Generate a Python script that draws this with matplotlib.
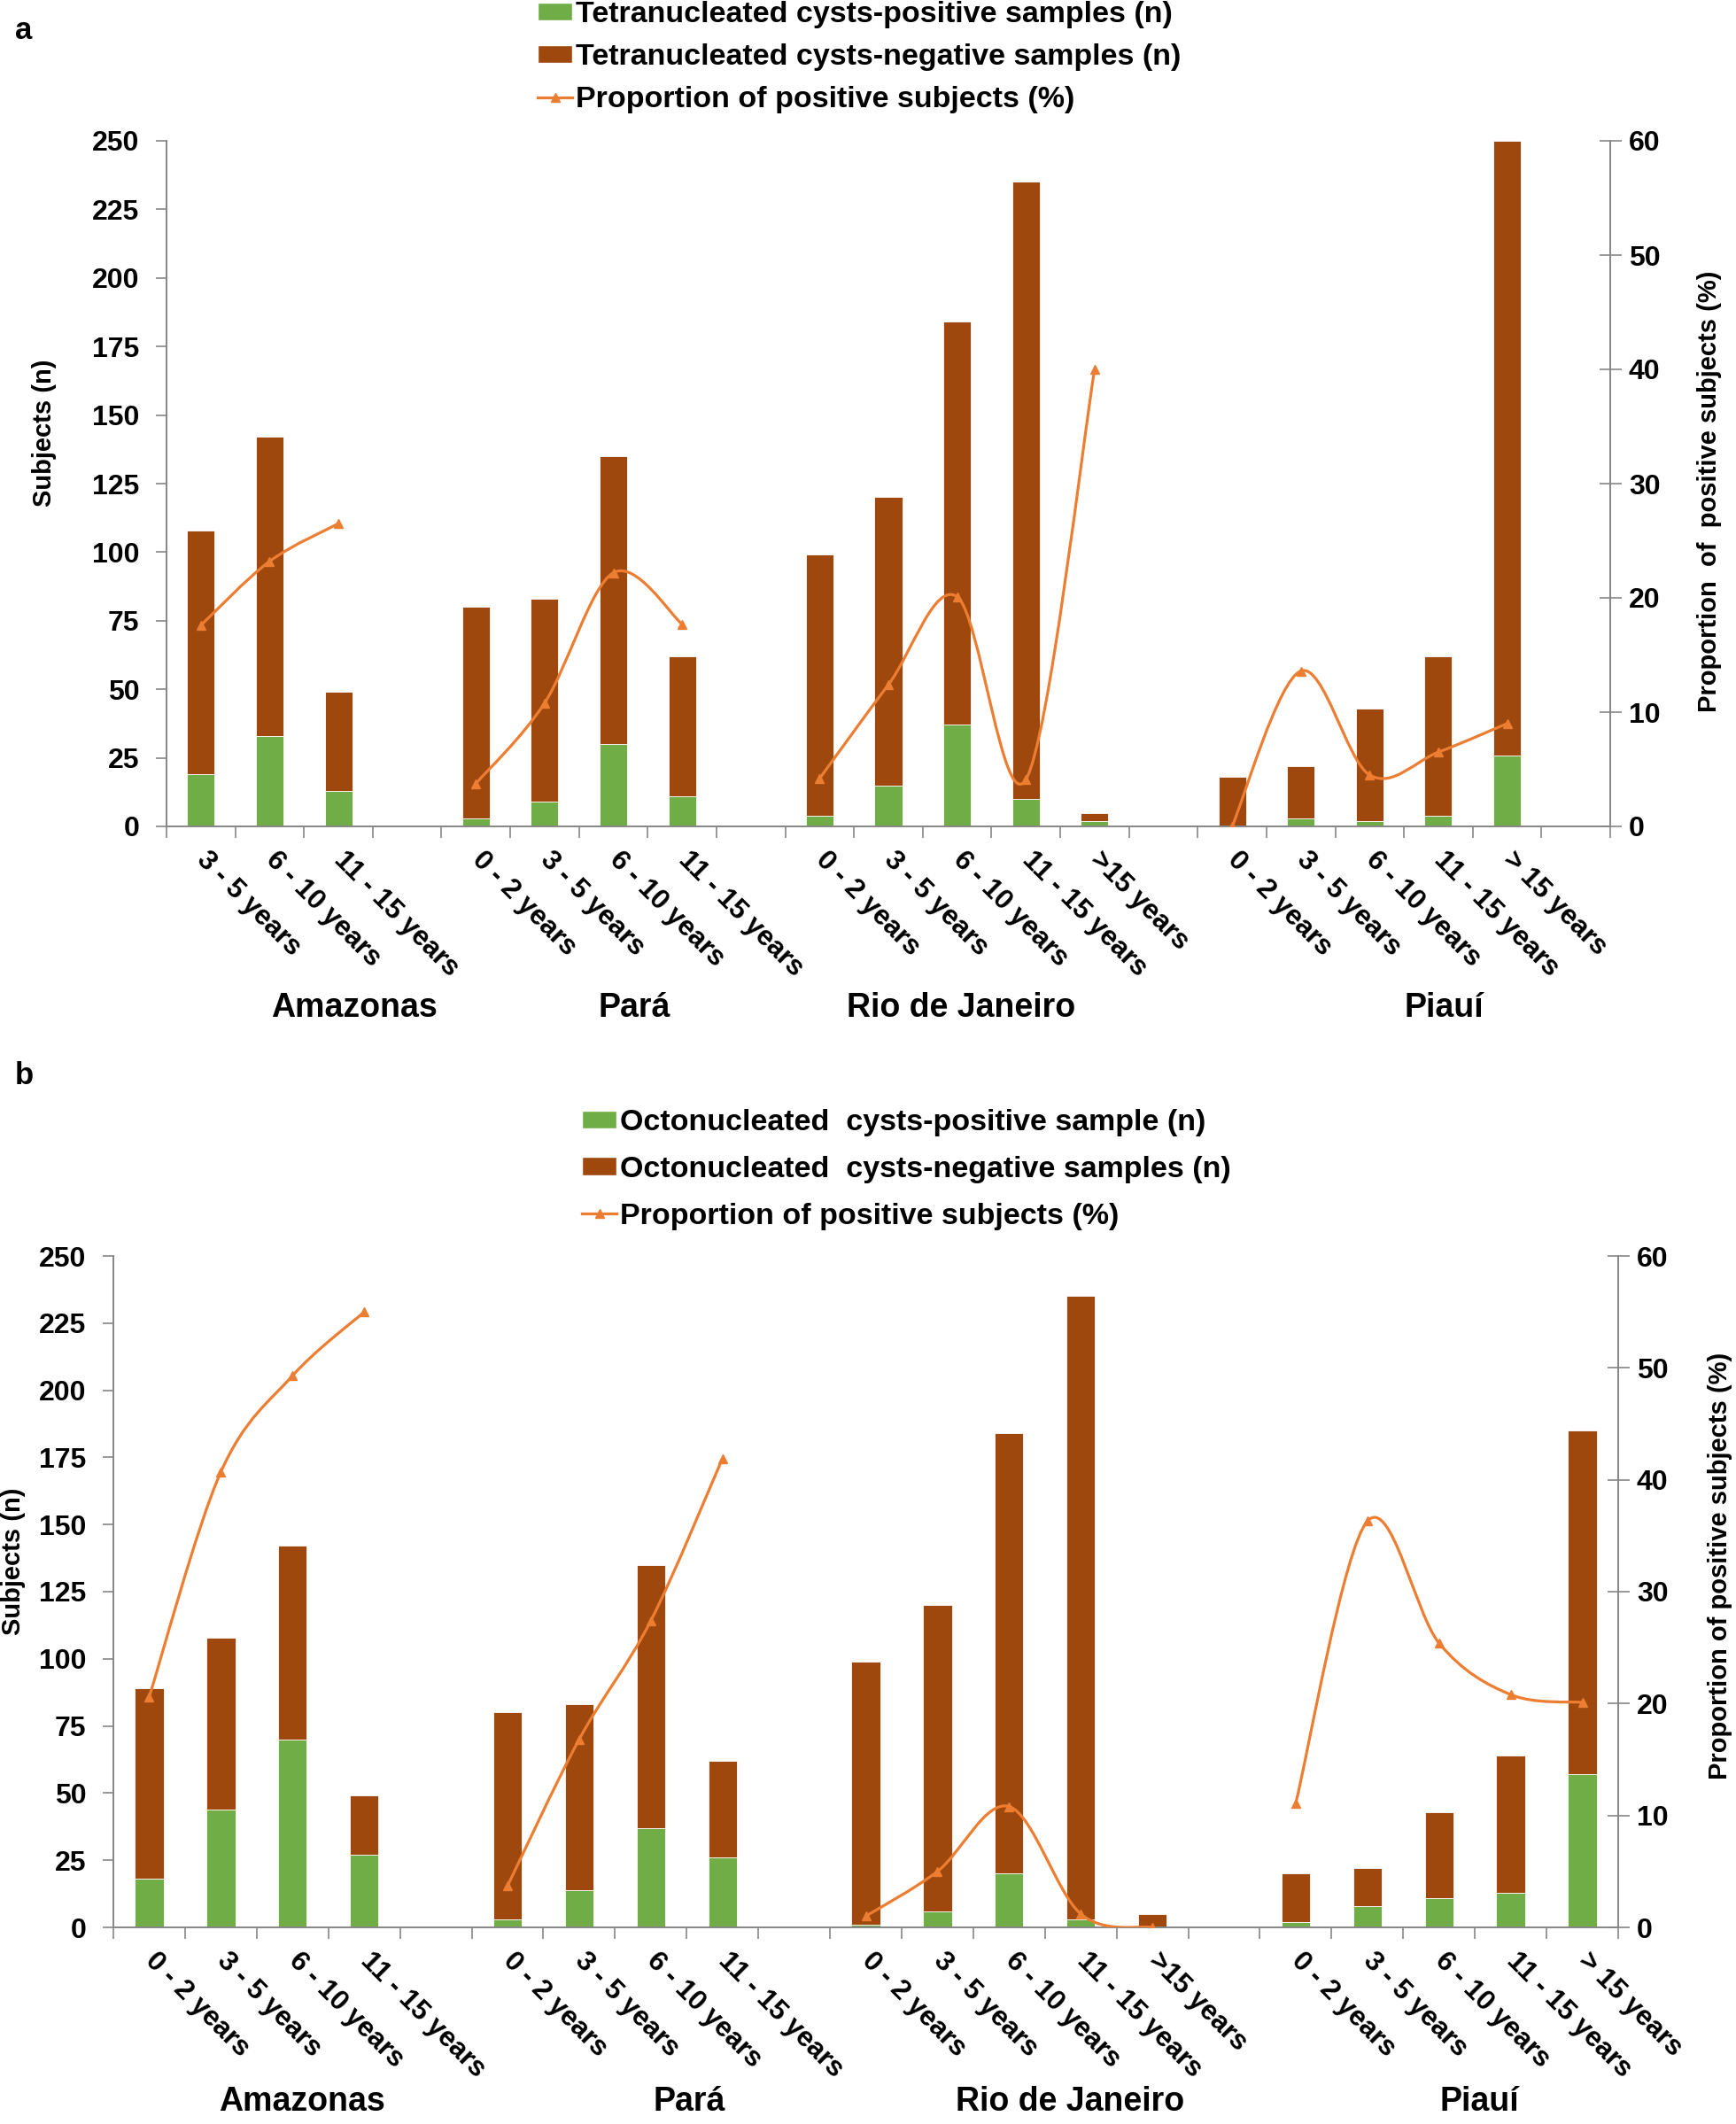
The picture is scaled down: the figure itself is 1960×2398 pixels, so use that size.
import matplotlib
matplotlib.use('Agg')
import matplotlib.pyplot as plt
from matplotlib.path import Path
from matplotlib.patches import PathPatch, Patch
from matplotlib.lines import Line2D

plt.rcParams['font.family'] = ['Liberation Sans', 'DejaVu Sans']
plt.rcParams['font.weight'] = 'bold'

# ---- data ----
regions = ['Amazonas', 'Pará', 'Rio de Janeiro', 'Piauí']

# panel a: tetranucleated cysts
ages_a = [['3 - 5 years', '6 - 10 years', '11 - 15 years'],
          ['0 - 2 years', '3 - 5 years', '6 - 10 years', '11 - 15 years'],
          ['0 - 2 years', '3 - 5 years', '6 - 10 years', '11 - 15 years', '>15 years'],
          ['0 - 2 years', '3 - 5 years', '6 - 10 years', '11 - 15 years', '> 15 years']]
pos_a = [[19, 33, 13], [3, 9, 30, 11], [4, 15, 37, 10, 2], [0, 3, 2, 4, 26]]
neg_a = [[89, 109, 36], [77, 74, 105, 51], [95, 105, 147, 225, 3], [18, 19, 41, 58, 224]]
prop_a = [[17.6, 23.2, 26.5], [3.75, 10.8, 22.2, 17.7], [4.2, 12.4, 20.1, 4.1, 40.0],
          [0.0, 13.6, 4.5, 6.5, 9.0]]

# panel b: octonucleated cysts
ages_b = [['0 - 2 years', '3 - 5 years', '6 - 10 years', '11 - 15 years'],
          ['0 - 2 years', '3 - 5 years', '6 - 10 years', '11 - 15 years'],
          ['0 - 2 years', '3 - 5 years', '6 - 10 years', '11 - 15 years', '>15 years'],
          ['0 - 2 years', '3 - 5 years', '6 - 10 years', '11 - 15 years', '> 15 years']]
pos_b = [[18, 44, 70, 27], [3, 14, 37, 26], [1, 6, 20, 3, 0], [2, 8, 11, 13, 57]]
neg_b = [[71, 64, 72, 22], [77, 69, 98, 36], [98, 114, 164, 232, 5], [18, 14, 32, 51, 128]]
prop_b = [[20.6, 40.7, 49.3, 55.0], [3.7, 16.8, 27.4, 41.9], [1.0, 5.0, 10.8, 1.2, 0.0],
          [11.1, 36.3, 25.4, 20.8, 20.1]]

GREEN = '#70AD47'
BROWN = '#9E480E'
ORANGE = '#ED7D31'
GRAY = '#868686'

W, H = 1960, 2398
fig = plt.figure(figsize=(W / 100, H / 100), dpi=100)


def fx(px):
    return px / W


def fy(py):
    return 1 - py / H


def smooth_path(xs, ys):
    # Catmull-Rom style bezier, like Excel's smoothed line
    n = len(xs)
    verts = [(xs[0], ys[0])]
    codes = [Path.MOVETO]
    for i in range(n - 1):
        i0 = i - 1 if i > 0 else i
        i3 = i + 2 if i + 2 < n else i + 1
        c1 = (xs[i] + (xs[i + 1] - xs[i0]) / 6, ys[i] + (ys[i + 1] - ys[i0]) / 6)
        c2 = (xs[i + 1] - (xs[i3] - xs[i]) / 6, ys[i + 1] - (ys[i3] - ys[i]) / 6)
        verts += [c1, c2, (xs[i + 1], ys[i + 1])]
        codes += [Path.CURVE4] * 3
    return Path(verts, codes)


def draw_panel(rect, ages, pos, neg, prop, trailing_gap):
    ax = fig.add_axes(rect)
    ax2 = ax.twinx()
    x = 0
    centers, labels = [], []
    for g in range(len(ages)):
        xs = list(range(x, x + len(ages[g])))
        ax.bar(xs, pos[g], width=0.4, color=GREEN, edgecolor='white', linewidth=0.6, zorder=2)
        ax.bar(xs, neg[g], width=0.4, bottom=pos[g], color=BROWN, edgecolor='white',
               linewidth=0.6, zorder=2)
        ax2.add_patch(PathPatch(smooth_path(xs, prop[g]), fill=False, edgecolor=ORANGE,
                                linewidth=2.3, zorder=3))
        ax2.plot(xs, prop[g], ls='none', marker='^', color=ORANGE, markersize=7, zorder=4)
        centers += xs
        labels += ages[g]
        x += len(ages[g])
        if g < len(ages) - 1 or trailing_gap:
            x += 1
    ax.set_xlim(-0.5, x - 0.5)
    ax.set_ylim(0, 250)
    ax2.set_ylim(0, 60)
    ax.set_yticks(range(0, 251, 25))
    ax2.set_yticks(range(0, 61, 10))
    ax.set_xticks([i - 0.5 for i in range(x + 1)])
    ax.set_xticklabels([])
    ax.set_xticks(centers, minor=True)
    ax.set_xticklabels(labels, minor=True, rotation=-45, ha='left', va='center',
                       rotation_mode='anchor', fontsize=22.5, fontweight='bold')
    ax.tick_params(axis='x', which='minor', length=0, pad=24)
    ax.tick_params(axis='x', which='major', length=9, color=GRAY, width=1.2, direction='out')
    ax.tick_params(axis='y', length=9, color=GRAY, width=1.2, labelsize=23, pad=13)
    ax2.tick_params(axis='y', length=18, color=GRAY, width=1.2, labelsize=23, pad=6,
                    direction='inout')
    for a in (ax, ax2):
        a.spines['top'].set_visible(False)
        for s in ('left', 'right', 'bottom'):
            a.spines[s].set_color(GRAY)
            a.spines[s].set_linewidth(1.2)
        for t in a.get_yticklabels():
            t.set_fontweight('bold')
    return ax, ax2


# panel a
draw_panel([fx(188), fy(933), fx(1818) - fx(188), fy(159) - fy(933)],
           ages_a, pos_a, neg_a, prop_a, True)
# panel b
draw_panel([fx(128), fy(2176), fx(1827) - fx(128), fy(1418) - fy(2176)],
           ages_b, pos_b, neg_b, prop_b, False)

# axis titles
fig.text(fx(50), fy(489), 'Subjects (n)', rotation=90, ha='center', va='center', fontsize=21)
fig.text(fx(1930), fy(555), 'Proportion  of  positive subjects (%)', rotation=90,
         ha='center', va='center', fontsize=21)
fig.text(fx(15), fy(1763), 'Subjects (n)', rotation=90, ha='center', va='center', fontsize=21)
fig.text(fx(1942), fy(1768), 'Proportion of positive subjects (%)', rotation=90,
         ha='center', va='center', fontsize=21)

# region labels
for name, px in zip(regions, [400, 716, 1085, 1630]):
    fig.text(fx(px), fy(1138), name, ha='center', va='center', fontsize=27)
for name, px in zip(regions, [341, 778, 1208, 1670]):
    fig.text(fx(px), fy(2373), name, ha='center', va='center', fontsize=27)

# panel letters
fig.text(fx(27), fy(34), 'a', ha='center', va='center', fontsize=25)
fig.text(fx(27), fy(1215), 'b', ha='center', va='center', fontsize=25)

# legends
def make_legend(labels, x0, ytop, spacing):
    handles = [Patch(facecolor=GREEN, edgecolor='white'),
               Patch(facecolor=BROWN, edgecolor='white'),
               Line2D([], [], color=ORANGE, lw=2.3, marker='^', markersize=7)]
    leg = fig.legend(handles, labels, loc='upper left', bbox_to_anchor=(fx(x0), fy(ytop)),
                     frameon=False, fontsize=24.5, handlelength=1.15, handleheight=0.55,
                     handletextpad=0.1, labelspacing=spacing, borderpad=0, borderaxespad=0)
    for t in leg.get_texts():
        t.set_fontweight('bold')


make_legend(['Tetranucleated cysts-positive samples (n)',
             'Tetranucleated cysts-negative samples (n)',
             'Proportion of positive subjects (%)'], 607, 1, 0.5)
make_legend(['Octonucleated  cysts-positive sample (n)',
             'Octonucleated  cysts-negative samples (n)',
             'Proportion of positive subjects (%)'], 657, 1252, 0.64)

fig.savefig('out.png', dpi=100)
